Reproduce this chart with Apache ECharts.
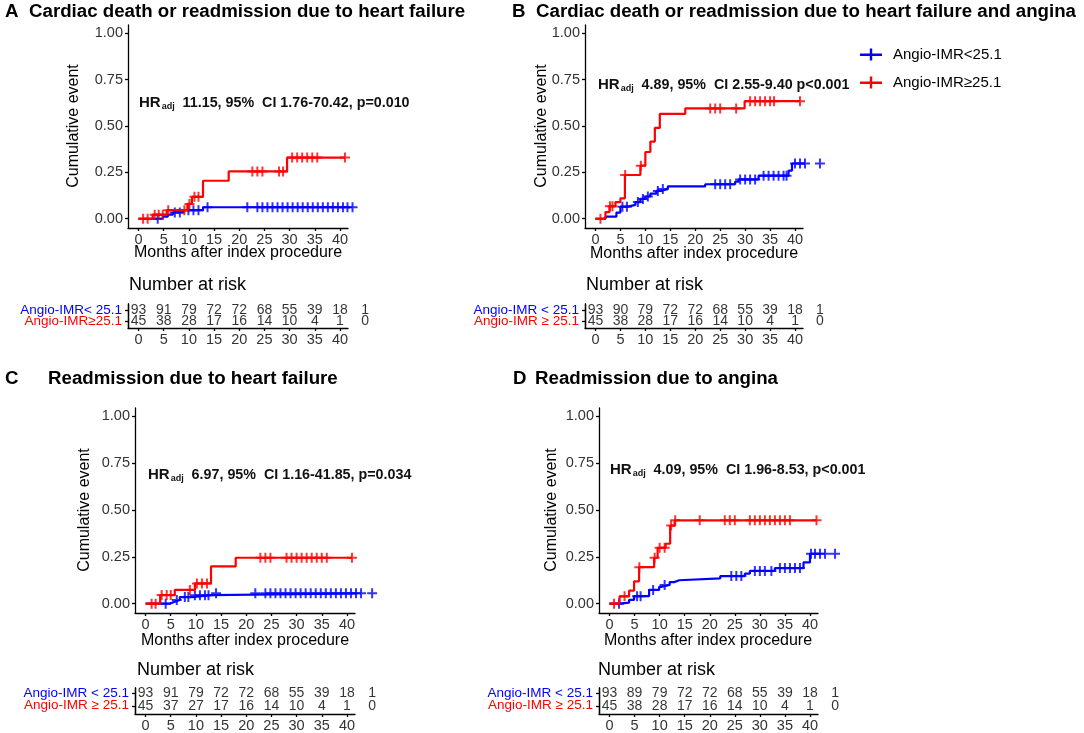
<!DOCTYPE html>
<html><head><meta charset="utf-8">
<script src="https://cdn.jsdelivr.net/npm/echarts@6/dist/echarts.min.js"></script>
<style>html,body{margin:0;padding:0;background:#fff}#c{width:1084px;height:733px}</style>
</head><body><div id="c"></div>
<script>
// ---------- DATA ----------
const monthTicks = [0,5,10,15,20,25,30,35,40];
const riskTimes = [0,5,10,15,20,25,30,35,40,45];
const yTicks = [0,0.25,0.5,0.75,1];
const groupNames = ['Angio-IMR<25.1','Angio-IMR≥25.1'];

// Panel A: Cardiac death or readmission due to heart failure
const lowA  = [[0,0],[4.8,0.011],[5.8,0.022],[6.8,0.034],[8.9,0.046],[12.8,0.062],[42.5,0.062]];
const highA = [[0,0],[2.8,0.022],[5.6,0.046],[9.7,0.08],[10.6,0.118],[12.8,0.205],[17.9,0.255],[29.5,0.33],[41,0.33]];
const lowCensA  = [3.8,7.2,8.2,9.9,10.9,11.9,13.7,21.6,23.6,24.6,25.6,26.6,27.6,28.6,29.6,30.6,31.6,32.6,33.6,34.6,35.6,36.6,37.6,38.6,39.6,40.6,41.5,42.5];
const highCensA = [0.9,1.8,3.2,4,4.8,5.9,9.1,10.1,11.1,11.9,22.6,23.6,24.6,27.9,28.7,30.5,31.5,32.5,33.5,34.5,35.5,41];
const riskLowA  = [93,91,79,72,72,68,55,39,18,1];
const riskHighA = [45,38,28,17,16,14,10,4,1,0];

// Panel B: Cardiac death or readmission due to heart failure and angina
const lowB  = [[0,0],[2,0.011],[4.2,0.033],[5,0.065],[6.5,0.075],[8,0.09],[9,0.107],[10,0.12],[11,0.135],[12.2,0.15],[13,0.16],[14.5,0.175],[22,0.186],[28,0.2],[28.7,0.212],[32.7,0.232],[38.7,0.26],[39.4,0.298],[45,0.298]];
const highB = [[0,0],[2,0.036],[2.8,0.067],[4,0.09],[5,0.11],[5.9,0.236],[9,0.286],[10,0.36],[11,0.416],[11.9,0.49],[12.9,0.566],[18,0.595],[29.9,0.634],[41,0.634]];
const lowCensB  = [5.4,6.3,8.5,9.5,10.5,12.5,13.5,24,25,26,27,29,30,31,32,33.7,34.7,35.7,36.7,37.7,38.3,40,41,42,45];
const highCensB = [1,2.9,3.4,5.95,9.1,23,24,25,28.2,31,32,33,34,35,35.8,41];
const riskLowB  = [93,90,79,72,72,68,55,39,18,1];
const riskHighB = [45,38,28,17,16,14,10,4,1,0];

// Panel C: Readmission due to heart failure
const lowC  = [[0,0],[4.8,0.01],[5.8,0.02],[6.8,0.035],[9.2,0.045],[13.1,0.055],[45,0.055]];
const highC = [[0,0],[2.9,0.046],[5.8,0.073],[9.8,0.108],[13,0.199],[17.9,0.245],[41,0.245]];
const lowCensC  = [4,6.2,7.8,8.5,9.8,10.8,11.8,12.5,14,21.8,23.8,24.8,25.8,26.8,27.8,28.8,29.8,30.8,31.8,32.8,33.8,34.8,35.8,36.8,37.8,38.8,39.8,40.8,41.8,42.8,45];
const highCensC = [1.2,2,3.2,4.2,5,8.8,10.2,11.2,12.2,22.8,23.8,24.8,28,29,30,31,32,33,34,35,36,41];
const riskLowC  = [93,91,79,72,72,68,55,39,18,1];
const riskHighC = [45,37,27,17,16,14,10,4,1,0];

// Panel D: Readmission due to angina
const lowD  = [[0,0],[2,0.005],[3.9,0.02],[4.9,0.04],[7.9,0.073],[9.9,0.09],[10.5,0.1],[12,0.115],[12.9,0.125],[13.9,0.135],[22.1,0.147],[27,0.16],[28,0.175],[33,0.19],[38.7,0.22],[40,0.266],[45,0.266]];
const highD = [[0,0],[2,0.039],[3.9,0.069],[4.9,0.119],[5.9,0.195],[8.9,0.245],[9.6,0.298],[11.2,0.32],[12.1,0.417],[13,0.445],[41.3,0.445]];
const lowCensD  = [1.9,5.5,6.2,8.7,11,24.3,25.3,26.3,29,30,31,32.3,34,35,36,37,38,40.2,41,42,43,45];
const highCensD = [0.9,3,5.95,9,10,11,12.3,13.1,18,23,24,25,28,29,30,31,32,33,34,35,36,41.3];
const riskLowD  = [93,89,79,72,72,68,55,39,18,1];
const riskHighD = [45,38,28,17,16,14,10,4,1,0];

const letters = ['A','B','C','D'];
const titles = ['Cardiac death or readmission due to heart failure',
                'Cardiac death or readmission due to heart failure and angina',
                'Readmission due to heart failure',
                'Readmission due to angina'];
const hrTexts = ['11.15, 95%  CI 1.76-70.42, p=0.010',
                 '4.89, 95%  CI 2.55-9.40 p<0.001',
                 '6.97, 95%  CI 1.16-41.85, p=0.034',
                 '4.09, 95%  CI 1.96-8.53, p<0.001'];
const riskLabels = [['Angio-IMR< 25.1','Angio-IMR≥25.1'],
                    ['Angio-IMR < 25.1','Angio-IMR ≥ 25.1'],
                    ['Angio-IMR < 25.1','Angio-IMR ≥ 25.1'],
                    ['Angio-IMR < 25.1','Angio-IMR ≥ 25.1']];
const yAxisTitle = 'Cumulative event';
const xAxisTitle = 'Months after index procedure';
const riskTitle = 'Number at risk';

// ---------- LAYOUT ----------
const layouts = [
  {plot:{left:128,top:25,width:220,height:203}, table:{left:128,top:304,width:220,height:24,min:0.364,max:2.545},
   letter:[5,12], title:[29,12], hr:[139,103], yName:[74,126], xName:[238,253], nar:[129,285]},
  {plot:{left:585,top:25,width:218,height:203}, table:{left:585,top:304,width:218,height:24,min:0.364,max:2.545},
   letter:[512,12], title:[536,12], hr:[598,85], yName:[542,126], xName:[694,254], nar:[586,285]},
  {plot:{left:135,top:408,width:220,height:205}, table:{left:135,top:688,width:220,height:26,min:0.35,max:2.4},
   letter:[5,379], title:[48,379], hr:[148,475], yName:[85,510], xName:[245,641], nar:[137,670]},
  {plot:{left:599,top:408,width:219,height:205}, table:{left:599,top:688,width:219,height:26,min:0.35,max:2.4},
   letter:[513,379], title:[535,379], hr:[610,470], yName:[552,510], xName:[708,641], nar:[598,670]}
];

const panels = [
  {low:lowA, high:highA, lowC:lowCensA, highC:highCensA, rl:riskLowA, rh:riskHighA},
  {low:lowB, high:highB, lowC:lowCensB, highC:highCensB, rl:riskLowB, rh:riskHighB},
  {low:lowC, high:highC, lowC:lowCensC, highC:highCensC, rl:riskLowC, rh:riskHighC},
  {low:lowD, high:highD, lowC:lowCensD, highC:highCensD, rl:riskLowD, rh:riskHighD}
];

// ---------- BUILD ----------
const FONT = '"Liberation Sans", Arial, Helvetica, sans-serif';
const BLUE = '#0000ff', RED = '#ff0000';
const crossPath = 'path://M0,4h10v2h-10zM4,0h2v10h-2z';
const legendIcon = 'path://M0,5h22v2.4h-22zM9.8,0h2.4v12h-2.4z';
const X_MIN = -2.1, X_MAX = 41.6, Y_MIN = -0.05, Y_MAX = 1.045;
const TICK_COLOR = '#333';

function stepAt(curve, t) {
  let v = curve[0][1];
  for (const p of curve) { if (p[0] <= t + 1e-9) v = p[1]; }
  return v;
}

const grids = [], xAxes = [], yAxes = [], series = [], graphics = [];
const axisLineStyle = {color:'#000', width:1.3};

layouts.forEach(L => grids.push(Object.assign({}, L.plot)));
layouts.forEach(L => grids.push({left:L.table.left, top:L.table.top, width:L.table.width, height:L.table.height}));

// plot axes (x 0-3, y 0-3)
layouts.forEach((L, i) => {
  xAxes.push({gridIndex:i, type:'value', min:X_MIN, max:X_MAX,
    axisLine:{show:true, onZero:false, lineStyle:axisLineStyle},
    axisTick:{show:true, customValues:monthTicks, length:3, lineStyle:axisLineStyle},
    axisLabel:{customValues:monthTicks, fontSize:14.5, color:TICK_COLOR, fontFamily:FONT, margin:4, hideOverlap:false},
    splitLine:{show:false}});
  yAxes.push({gridIndex:i, type:'value', min:Y_MIN, max:Y_MAX,
    axisLine:{show:true, onZero:false, lineStyle:axisLineStyle},
    axisTick:{show:true, customValues:yTicks, length:3, lineStyle:axisLineStyle},
    axisLabel:{customValues:yTicks, fontSize:14.5, color:TICK_COLOR, fontFamily:FONT, margin:5, hideOverlap:false,
      formatter: v => Number(v).toFixed(2)},
    splitLine:{show:false}});
});
// table axes (x 4-7; y: blue row 4+2i, red row 5+2i)
layouts.forEach((L, i) => {
  const labs = riskLabels[i];
  xAxes.push({gridIndex:4+i, type:'value', min:X_MIN, max:X_MAX,
    axisLine:{show:true, onZero:false, lineStyle:axisLineStyle},
    axisTick:{show:true, customValues:monthTicks, length:3, lineStyle:axisLineStyle},
    axisLabel:{customValues:monthTicks, fontSize:14.5, color:TICK_COLOR, fontFamily:FONT, margin:4, hideOverlap:false},
    splitLine:{show:false}});
  [[2, labs[0], BLUE], [1, labs[1], RED]].forEach(([row, lab, col]) => {
    yAxes.push({gridIndex:4+i, type:'value', position:'left', offset:0, min:L.table.min, max:L.table.max,
      axisLine:{show:true, onZero:false, lineStyle:axisLineStyle},
      axisTick:{show:true, customValues:[row], length:3, lineStyle:axisLineStyle},
      axisLabel:{customValues:[row], margin:6, fontFamily:FONT, fontSize:13.5, color:col,
        formatter: () => lab},
      splitLine:{show:false}});
  });
});

panels.forEach((P, i) => {
  const groups = [[P.low, P.lowC, BLUE, groupNames[0], P.rl, 2, 4+2*i],
                  [P.high, P.highC, RED, groupNames[1], P.rh, 1, 5+2*i]];
  groups.forEach((g, k) => {
    const [curve, cens, color, name, risk, row, yIdx] = g;
    series.push({type:'line', name:name, xAxisIndex:i, yAxisIndex:i, step:'end', symbol:'none',
      clip:false, silent:true, animation:false, z:2+2*k,
      lineStyle:{color:color, width:2.2}, itemStyle:{color:color}, data:curve});
    series.push({type:'scatter', name:name, xAxisIndex:i, yAxisIndex:i, symbol:crossPath, symbolSize:10,
      clip:false, silent:true, animation:false, z:3+2*k,
      itemStyle:{color:color}, data:cens.map(t => [t, stepAt(curve, t)])});
    series.push({type:'scatter', xAxisIndex:4+i, yAxisIndex:yIdx, symbolSize:1, clip:false, silent:true,
      animation:false, itemStyle:{color:'transparent'},
      labelLayout:{hideOverlap:false},
      label:{show:true, position:'inside', fontSize:14, color:'#000', fontFamily:FONT,
        formatter: p => String(p.value[2])},
      data: riskTimes.map((t, j) => [t, row, risk[j]])});
  });

  const L = layouts[i];
  graphics.push({type:'text', x:L.letter[0], y:L.letter[1], silent:true,
    style:{text:letters[i], fill:'#000', font:'bold 18.7px ' + FONT, align:'left', verticalAlign:'middle'}});
  graphics.push({type:'text', x:L.title[0], y:L.title[1], silent:true,
    style:{text:titles[i], fill:'#000', font:'bold 18.7px ' + FONT, align:'left', verticalAlign:'middle'}});
  graphics.push({type:'text', x:L.hr[0], y:L.hr[1], silent:true,
    style:{text:'{h|HR}{s|adj}{t|  ' + hrTexts[i] + '}', align:'left', verticalAlign:'middle',
      rich:{h:{fontSize:15, fontWeight:'bold', fontFamily:FONT, fill:'#111'},
            s:{fontSize:9, fontWeight:'bold', fontFamily:FONT, fill:'#111', padding:[7,0,0,1]},
            t:{fontSize:14.3, fontWeight:'bold', fontFamily:FONT, fill:'#111'}}}});
  graphics.push({type:'text', x:L.yName[0], y:L.yName[1], rotation:Math.PI/2, silent:true,
    style:{text:yAxisTitle, fill:'#000', font:'16px ' + FONT, align:'center', verticalAlign:'middle'}});
  graphics.push({type:'text', x:L.xName[0], y:L.xName[1], silent:true,
    style:{text:xAxisTitle, fill:'#000', font:'16px ' + FONT, align:'center', verticalAlign:'middle'}});
  graphics.push({type:'text', x:L.nar[0], y:L.nar[1], silent:true,
    style:{text:riskTitle, fill:'#000', font:'18px ' + FONT, align:'left', verticalAlign:'middle'}});
});

const chart = echarts.init(document.getElementById('c'));
chart.setOption({
  animation:false,
  backgroundColor:'#fff',
  grid:grids, xAxis:xAxes, yAxis:yAxes, series:series,
  legend:{left:860, top:47, orient:'vertical', itemGap:13, itemWidth:22, itemHeight:12, padding:0,
    selectedMode:false,
    textStyle:{fontSize:15, color:'#000', fontFamily:FONT, padding:[0,0,0,6]},
    data:[{name:groupNames[0], icon:legendIcon, itemStyle:{color:BLUE}},
          {name:groupNames[1], icon:legendIcon, itemStyle:{color:RED}}]},
  graphic:graphics
});
</script>
</body></html>
